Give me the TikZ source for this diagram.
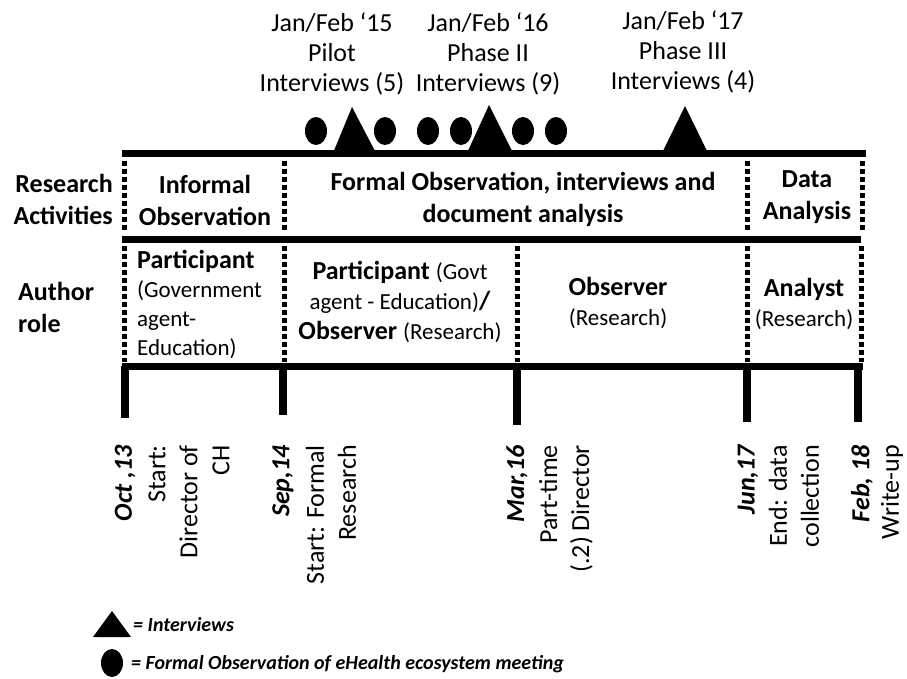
\documentclass[tikz,border=0pt]{standalone}
\usepackage{fontspec}
\setmainfont{Carlito}
\begin{document}
\begin{tikzpicture}[x=1pt,y=-1pt,
  hline/.style={line width=7pt},
  dotv/.style={line width=5pt, dash pattern=on 4.5pt off 3.5pt},
  tickbar/.style={line width=8pt},
  txt/.style={inner sep=0pt, align=center, font=\fontsize{26}{30}\selectfont},
  boldtxt/.style={inner sep=0pt, align=center, font=\fontsize{26}{32}\selectfont\bfseries},
  rot/.style={rotate=90, anchor=east, align=right, inner sep=0pt, font=\fontsize{26}{32}\selectfont},
  legendtxt/.style={inner sep=0pt, anchor=west, font=\fontsize{20}{24}\selectfont\bfseries\itshape},
  markfill/.style={fill=black}]
\useasboundingbox (0,0) rectangle (907,678);
\fill[white] (0,0) rectangle (907,678);

% top labels
\node[txt] (l15) at (332,54) {Jan/Feb ‘15\\Pilot\\Interviews (5)};
\node[txt] (l16) at (488,54) {Jan/Feb ‘16\\Phase II\\Interviews (9)};
\node[txt] (l17) at (683,52) {Jan/Feb ‘17\\Phase III\\Interviews (4)};

% markers
\fill[markfill] (316,131) ellipse [x radius=11, y radius=14];
\fill[markfill] (385,131) ellipse [x radius=11, y radius=14];
\fill[markfill] (428,131) ellipse [x radius=11, y radius=14];
\fill[markfill] (461,131) ellipse [x radius=11, y radius=14];
\fill[markfill] (523,131) ellipse [x radius=11, y radius=14];
\fill[markfill] (556,131) ellipse [x radius=11, y radius=14];
\fill[markfill] (333,153) -- (352,107) -- (376,153) -- cycle;
\fill[markfill] (467,153) -- (489,105) -- (513,153) -- cycle;
\fill[markfill] (662,153) -- (685,106) -- (708,153) -- cycle;

% horizontal lines
\draw[hline] (122,153) -- (866,153);
\draw[hline] (122,239) -- (861,239);
\draw[hline] (122,366) -- (863,366);

% dotted vertical lines
\foreach \x in {124,284,747,862} {
  \draw[dotv] (\x,161) -- (\x,233);
}
\foreach \x in {124,284,517,747,861} {
  \draw[dotv] (\x,246) -- (\x,362);
}

% ticks
\draw[tickbar] (125,366) -- (125,418);
\draw[tickbar] (283,366) -- (283,415);
\draw[tickbar] (517,366) -- (517,425);
\draw[tickbar] (747,366) -- (747,422);
\draw[tickbar] (858,366) -- (858,422);

% row 1
\node[boldtxt, align=right, anchor=east] (ra) at (113,199) {Research\\Activities};
\node[boldtxt] (inf) at (205,200) {Informal\\Observation};
\node[boldtxt] (form) at (523,199) {Formal Observation, interviews and\\document analysis};
\node[boldtxt] (da) at (807,197) {Data\\Analysis};

% row 2
\node[boldtxt, align=left, anchor=west] (ar) at (18,307) {Author\\role};
\node[inner sep=0pt, align=left, anchor=west, font=\fontsize{23}{29}\selectfont] (p1) at (137,304)
  {\fontsize{26}{29}\selectfont\bfseries Participant\\(Government\\agent-\\Education)};
\node[txt] (p2) at (400,302)
  {\textbf{Participant} {\fontsize{23}{30}\selectfont(Govt}\\{\fontsize{23}{30}\selectfont agent - Education)}\textbf{/}\\\textbf{Observer} {\fontsize{23}{30}\selectfont(Research)}};
\node[txt] (obs) at (618,303) {\textbf{Observer}\\{\fontsize{23}{30}\selectfont(Research)}};
\node[txt] (an) at (804,304) {\textbf{Analyst}\\{\fontsize{23}{30}\selectfont(Research)}};

% bottom rotated labels
\node[rot] (d1) at (125,445) {\bfseries\itshape Oct ,13};
\node[rot] (t1) at (189,445) {Start:\\Director of\\CH};
\node[rot] (d2) at (283,445) {\bfseries\itshape Sep,14};
\node[rot] (t2) at (331,445) {Start: Formal\\Research};
\node[rot] (d3) at (517,445) {\bfseries\itshape Mar,16};
\node[rot] (t3) at (566,445) {Part-time\\(.2) Director};
\node[rot] (d4) at (748,445) {\bfseries\itshape Jun,17};
\node[rot] (t4) at (794,445) {End: data\\collection};
\node[rot] (d5) at (862,445) {\bfseries\itshape Feb, 18};
\node[rot] (t5) at (892,445) {Write-up};

% legend
\fill[markfill] (93,637) -- (112,611) -- (131,637) -- cycle;
\node[legendtxt] (lg1) at (133,625) {= Interviews};
\fill[markfill] (112,663) ellipse [x radius=11, y radius=14];
\node[legendtxt] (lg2) at (131,664) {= Formal Observation of eHealth ecosystem meeting};
\end{tikzpicture}
\end{document}
